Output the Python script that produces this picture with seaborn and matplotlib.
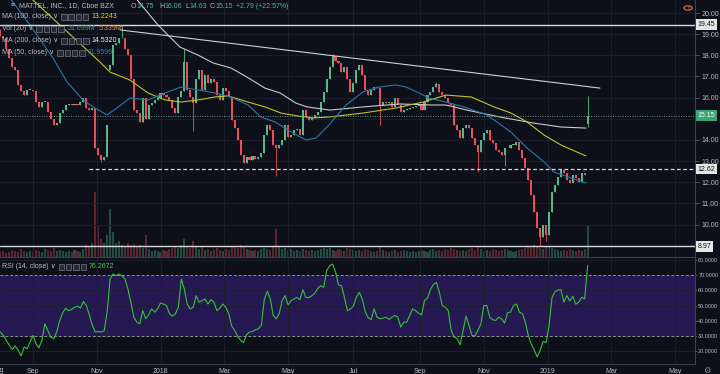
import numpy as np
import pandas as pd
import matplotlib.pyplot as plt
from matplotlib import font_manager
from matplotlib.patches import Rectangle, Circle
import seaborn as sns

# Mattel daily chart, drawn as 2-session candles (Aug 2017 - 7 Feb 2019)
close = [
    18.9, 18.8, 18.3, 17.85, 17.45, 17.3, 16.6, 16.3, 16.1, 16.35,
    16.35, 16.3, 15.8, 15.55, 15.8, 15.8, 15.3, 15.0, 14.7, 14.8,
    15.25, 15.4, 15.65, 15.7, 15.65, 15.7, 15.65, 15.8, 15.97, 15.5,
    15.4, 15.5, 13.6, 13.3, 13.05, 13.2, 14.7, 17.55, 18.5, 18.6,
    18.8, 18.8, 18.3, 18.0, 16.9, 15.4, 15.25, 14.86, 15.97, 15.0,
    15.65, 15.73, 15.9, 15.97, 16.2, 16.1, 16.05, 15.9, 15.5, 15.25,
    16.05, 16.3, 17.7, 16.35, 16.05, 15.73, 16.9, 17.3, 16.35, 17.07,
    16.7, 16.9, 16.75, 16.1, 15.9, 16.45, 16.3, 16.05, 14.94, 14.55,
    14.0, 13.3, 12.9, 13.2, 13.05, 13.25, 13.1, 13.2, 13.36, 14.23,
    14.7, 14.47, 13.76, 13.6, 13.76, 14.0, 14.7, 14.15, 14.23, 14.47,
    14.5, 14.23, 15.4, 15.1, 14.94, 15.02, 15.18, 15.33, 15.8, 16.28,
    16.9, 17.46, 17.95, 17.75, 17.62, 17.23, 17.46, 16.9, 16.28, 16.67,
    17.3, 17.54, 17.07, 16.36, 16.12, 16.36, 16.52, 16.44, 15.65, 15.8,
    15.73, 15.8, 15.57, 15.97, 15.65, 15.33, 15.41, 15.45, 15.49, 15.57,
    15.6, 15.7, 15.41, 15.8, 16.12, 16.28, 16.52, 16.63, 16.28, 16.12,
    15.97, 15.73, 15.65, 14.7, 14.47, 14.07, 14.55, 14.7, 14.55, 14.07,
    13.76, 13.44, 14.0, 14.31, 14.47, 14.0, 13.84, 13.52, 13.44, 13.28,
    13.6, 13.6, 13.75, 13.76, 13.92, 13.52, 13.13, 12.66, 12.1, 11.4,
    10.6, 9.82, 9.43, 9.98, 9.5, 10.6, 11.55, 11.87, 12.26, 12.58,
    12.42, 12.1, 11.95, 12.34, 12.18, 12.02, 12.42, 12.34, 15.15,
]
first_open = 19.0
gap_open = {37: 17.3, 198: 14.75}
high_ext = {0: 19.25, 41: 19.45, 62: 18.3, 112: 18.05, 147: 16.75, 198: 16.06}
low_ext = {34: 12.97, 65: 14.4, 93: 12.3, 128: 14.7, 161: 12.5, 170: 12.75,
           182: 8.97, 184: 9.2, 198: 14.63}

volume = [
    5, 6, 4, 5, 7, 6, 5, 8, 6, 5,
    6, 5, 7, 6, 5, 8, 7, 6, 9, 6,
    7, 6, 5, 6, 5, 7, 6, 5, 8, 12,
    10, 14, 65, 32, 18, 14, 22, 48, 25, 14,
    16, 12, 10, 14, 12, 13, 10, 12, 9, 22,
    8, 6, 7, 6, 5, 7, 6, 8, 9, 10,
    9, 12, 18, 11, 9, 16, 10, 8, 11, 7,
    8, 6, 7, 9, 7, 6, 8, 7, 10, 11,
    9, 12, 10, 8, 7, 6, 7, 6, 8, 9,
    8, 7, 10, 28, 10, 8, 9, 7, 8, 6,
    7, 6, 8, 7, 6, 7, 6, 7, 8, 9,
    8, 9, 7, 6, 8, 7, 6, 9, 8, 7,
    6, 7, 6, 8, 7, 6, 5, 6, 10, 7,
    6, 5, 6, 7, 5, 6, 7, 6, 5, 6,
    5, 6, 7, 6, 5, 7, 8, 6, 7, 6,
    8, 7, 9, 8, 7, 6, 7, 6, 8, 9,
    7, 11, 8, 6, 7, 6, 8, 7, 6, 7,
    8, 7, 6, 5, 6, 7, 8, 9, 10, 11,
    12, 10, 9, 8, 11, 10, 9, 8, 7, 6,
    7, 6, 8, 7, 6, 7, 6, 8, 32,
]

rsi = [
    32.6, 30.4, 27.2, 23.9, 21.3, 23.5, 20.7, 17.0, 22.8, 21.7,
    26.1, 30.4, 25.0, 22.2, 27.2, 38.0, 33.7, 29.3, 28.3, 32.6,
    40.2, 45.2, 48.3, 46.7, 47.4, 48.9, 49.6, 48.3, 52.6, 50.0,
    43.9, 37.0, 32.6, 33.0, 32.6, 33.5, 45.7, 67.4, 70.7, 69.6,
    70.7, 69.6, 67.4, 60.9, 52.2, 42.4, 39.1, 38.0, 46.7, 41.3,
    43.9, 47.8, 45.7, 47.8, 51.7, 51.0, 50.0, 44.6, 43.0, 44.6,
    48.9, 67.4, 61.0, 51.0, 47.8, 48.9, 56.5, 52.2, 53.3, 54.3,
    51.0, 53.9, 52.2, 46.7, 48.3, 51.0, 48.9, 44.6, 36.5, 33.7,
    29.8, 27.2, 25.7, 30.9, 32.6, 33.0, 34.1, 34.8, 37.0, 54.3,
    59.3, 54.3, 43.5, 41.3, 44.6, 53.3, 56.5, 50.4, 53.3, 54.3,
    55.4, 53.9, 60.4, 55.4, 55.2, 56.5, 58.0, 61.3, 63.0, 62.0,
    72.8, 76.1, 77.2, 72.2, 63.5, 63.0, 55.4, 46.7, 47.8, 49.6,
    55.4, 58.7, 54.3, 46.1, 42.0, 40.7, 47.8, 42.4, 41.3, 41.7,
    42.4, 40.9, 42.4, 43.5, 42.4, 35.9, 39.1, 39.1, 43.5, 47.8,
    46.7, 45.0, 43.9, 53.3, 54.8, 60.4, 63.9, 65.2, 58.7, 50.0,
    48.9, 46.7, 33.7, 29.3, 28.3, 24.3, 33.7, 43.0, 37.0, 30.4,
    30.0, 33.7, 38.0, 50.0, 50.0, 42.4, 40.7, 40.2, 42.4, 41.3,
    38.5, 45.2, 45.7, 50.0, 51.0, 45.7, 44.6, 39.1, 30.4, 24.6,
    20.7, 16.3, 20.7, 26.5, 25.7, 37.0, 55.4, 59.1, 60.2, 60.4,
    52.2, 56.5, 53.0, 56.1, 50.9, 52.2, 55.4, 54.3, 76.27,
]

# moving averages, read at points along each line (session index, price)
ma50_x = [0.8, 21.0, 36.5, 45.9, 56.7, 63.5, 72.9, 79.6, 88.4, 100.5, 112.0, 122.8,
          145.7, 156.5, 168.0, 176.8, 186.2, 195.0, 201.7, 207.1, 213.8, 222.6,
          234.1, 245.5, 256.3, 267.8, 274.5, 283.3, 290.0, 301.5, 313.6, 329.1,
          345.3, 356.1, 367.6, 374.3, 385.8, 395.9]
ma50_y = [21.32, 19.43, 17.87, 16.74, 15.89, 15.56, 15.18, 15.51, 15.98, 15.89, 16.22, 16.5,
          16.22, 16.03, 15.65, 15.08, 14.85, 14.47, 14.19, 14.0, 14.09, 14.71,
          15.65, 16.27, 16.5, 16.6, 16.5, 16.22, 15.98, 15.79, 15.56, 15.18,
          14.37, 13.62, 12.96, 12.48, 12.2, 11.96]
ma100_x = [14.2, 41.2, 68.2, 74.9, 88.4, 100.5, 112.0, 122.8, 134.3, 145.7, 154.5,
           168.0, 179.4, 190.2, 201.7, 211.8, 222.6, 245.5, 267.8, 286.0, 301.5,
           318.4, 333.9, 345.3, 356.1, 367.6, 379.0, 395.9]
ma100_y = [21.18, 19.43, 17.68, 17.21, 16.83, 16.22, 15.89, 15.79, 15.89, 16.03, 16.08,
           15.79, 15.56, 15.27, 15.13, 15.04, 15.08, 15.27, 15.51, 15.79, 16.12,
           16.03, 15.56, 15.27, 14.85, 14.23, 13.76, 13.24]
ma200_x = [85.0, 107.3, 122.1, 134.3, 144.4, 156.5, 167.3, 179.4, 189.6, 200.3, 207.8,
           223.3, 245.5, 270.5, 292.0, 301.5, 315.6, 338.0, 360.2, 379.0, 395.9]
ma200_y = [21.32, 19.43, 18.39, 18.01, 17.64, 17.4, 16.97, 16.45, 16.22, 15.74, 15.56,
           15.41, 15.56, 15.70, 15.65, 15.65, 15.41, 15.08, 14.8, 14.61, 14.56]
trend_x = [81.7, 405.3]
trend_y = [19.2, 16.45]

level_values = [19.45, 15.15, 12.62, 8.97]
price_ticks = [10, 11, 12, 13, 14, 16, 17, 18, 19, 20]
month_starts = ['2017-09-01', '2017-11-01', '2018-01-01', '2018-03-01', '2018-05-01',
                '2018-07-01', '2018-09-01', '2018-11-01', '2019-01-01', '2019-03-01',
                '2019-05-01']
month_labels = ['Sep', 'Nov', '2018', 'Mar', 'May', 'Jul', 'Sep', 'Nov', '2019', 'Mar', 'May']

# ---- styling ----
BG = '#0d1019'
GRID = '#1b1f2b'
TXT = '#b8bbc4'
UP = '#53b987'
DOWN = '#eb4d5c'

sns.set_theme(style='dark', rc={'axes.facecolor': BG, 'figure.facecolor': BG,
                                'savefig.facecolor': BG})
names = {f.name for f in font_manager.fontManager.ttflist}
FONT = 'Liberation Sans Narrow' if 'Liberation Sans Narrow' in names else 'Liberation Sans'
plt.rcParams['font.family'] = [FONT, 'DejaVu Sans']

# build candle table
pos = np.arange(1, 2 * len(close), 2)
opens = [first_open] + close[:-1]
for k, v in gap_open.items():
    opens[k] = v
df = pd.DataFrame({'pos': pos, 'open': opens, 'close': close, 'vol': volume, 'rsi': rsi})
df['high'] = df[['open', 'close']].max(axis=1)
df['low'] = df[['open', 'close']].min(axis=1)
for k, v in high_ext.items():
    df.loc[k, 'high'] = v
for k, v in low_ext.items():
    df.loc[k, 'low'] = v
up = df['close'] >= df['open']
cols = np.where(up, UP, DOWN)
vcols = np.where(up, '#1f4d3f', '#5a2431')

days = pd.bdate_range('2017-08-01', '2019-06-28')
tick_pos = [days.searchsorted(pd.Timestamp(m)) for m in month_starts]

W, H = 720, 374
fig = plt.figure(figsize=(7.2, 3.74), dpi=100)
renderer = fig.canvas.get_renderer()
XL = (0.75, 469.4)

def fx(x):
    return x / W

def fy(y):
    return 1 - y / H

# volume underlay
axv = fig.add_axes([0, fy(257), fx(695), 257 / H])
axv.bar(df['pos'], df['vol'], width=1.4, color=vcols, linewidth=0)
axv.set_xlim(*XL)
axv.set_ylim(0, 257)
axv.axis('off')
axv.patch.set_facecolor(BG)
axv.patch.set_visible(True)

ax = fig.add_axes([0, fy(257), fx(695), 257 / H])
ax.patch.set_visible(False)
ax.set_xlim(*XL)
ax.set_ylim(8.464, 20.615)
ax.set_axisbelow(True)
ax.set_xticks(tick_pos)
ax.set_xticklabels([])
ax.set_yticks(range(9, 21))
ax.grid(True, color=GRID, linewidth=0.7)
ax.tick_params(axis='x', length=0)

# candles
ax.vlines(df['pos'], df['low'], df['high'], colors=cols, linewidth=0.6, zorder=3)
body = (df['close'] - df['open']).abs().clip(lower=0.04)
ax.bar(df['pos'], body, bottom=df[['open', 'close']].min(axis=1), width=1.4,
       color=cols, linewidth=0, zorder=3)

# moving averages and trend line
sns.lineplot(x=ma200_x, y=ma200_y, ax=ax, color='#c9c9c9', linewidth=0.8, estimator=None, zorder=4)
sns.lineplot(x=ma100_x, y=ma100_y, ax=ax, color='#c2c230', linewidth=0.8, estimator=None, zorder=4)
sns.lineplot(x=ma50_x, y=ma50_y, ax=ax, color='#2f75a8', linewidth=0.8, estimator=None, zorder=4)
sns.lineplot(x=trend_x, y=trend_y, ax=ax, color='#cfcfcf', linewidth=0.8, estimator=None, zorder=4)

# horizontal levels
ax.axhline(level_values[0], color='#d8d8d8', linewidth=1.0, zorder=4)
ax.axhline(level_values[1], color='#6c9c80', linewidth=0.7, linestyle=(0, (1, 1.5)), zorder=4)
ax.hlines(level_values[2], 61, XL[1], color='#d8d8d8', linewidth=0.9, linestyle=(0, (3, 2)), zorder=4)
ax.axhline(level_values[3], color='#d8d8d8', linewidth=1.0, zorder=4)

# right price scale (labels hidden under the level boxes are left out)
ax.yaxis.tick_right()
ax.tick_params(axis='y', length=3, width=0.6, color='#5a5e6a', labelsize=5, labelcolor=TXT, pad=2)
ax.set_yticklabels([f'{v:.2f}' if v in price_ticks else '' for v in range(9, 21)])
for s in ['top', 'left']:
    ax.spines[s].set_visible(False)
for s in ['right', 'bottom']:
    ax.spines[s].set_color('#3c4050')
    ax.spines[s].set_linewidth(0.8)
ax.set_xlabel('')
ax.set_ylabel('')

# price label boxes on the scale
ytr = ax.get_yaxis_transform()
for val, fc, tc in [(level_values[0], '#e6e6e6', '#111111'), (level_values[1], '#3aa574', '#ffffff'),
                    (level_values[2], '#e6e6e6', '#111111'), (level_values[3], '#e6e6e6', '#111111')]:
    ax.text(1.004, val, f'{val:.2f}', transform=ytr, ha='left', va='center', fontsize=5, color=tc,
            bbox=dict(boxstyle='square,pad=0.25', fc=fc, ec='none'), zorder=6, clip_on=False)

# RSI panel
axr = fig.add_axes([0, fy(364), fx(695), (364 - 258) / H])
axr.set_xlim(*XL)
axr.set_ylim(11.65, 81.2)
axr.axhspan(30, 70, color='#251853', linewidth=0, zorder=0)
axr.set_axisbelow(True)
axr.set_yticks(range(20, 90, 10))
axr.set_xticks(tick_pos)
axr.set_xticklabels(month_labels)
axr.grid(True, color=GRID, linewidth=0.7)
axr.axhline(70, color='#8b8d9a', linewidth=0.7, linestyle=(0, (3, 2)), zorder=2)
axr.axhline(30, color='#8b8d9a', linewidth=0.7, linestyle=(0, (3, 2)), zorder=2)
sns.lineplot(x=df['pos'], y=df['rsi'], ax=axr, color='#35c235', linewidth=0.8, estimator=None, zorder=3)
axr.yaxis.tick_right()
axr.yaxis.set_major_formatter(plt.FuncFormatter(lambda v, p: f'{v:.4f}'))
axr.tick_params(axis='y', length=1.5, width=0.6, color='#5a5e6a', labelsize=3.9, labelcolor=TXT, pad=0.8)
axr.tick_params(axis='x', length=0, labelsize=5, labelcolor=TXT, pad=3)
for s in ['top', 'left']:
    axr.spines[s].set_visible(False)
for s in ['right', 'bottom']:
    axr.spines[s].set_color('#3c4050')
    axr.spines[s].set_linewidth(0.8)
axr.set_xlabel('')
axr.set_ylabel('')

# ---- legend text, each piece placed after the previous one ----
FS = 5.0

def ftxt(x, y, s, color=TXT):
    t = fig.text(fx(x), fy(y), s, color=color, fontsize=FS, va='center', ha='left')
    return t.get_window_extent(renderer).x1

def icons(x, y):
    for i in range(4):
        fig.add_artist(Rectangle((fx(x + i * 7.3), fy(y + 2.8)), 5.4 / W, 5.6 / H,
                                 transform=fig.transFigure, fc='#262a36', ec='#777a86', lw=0.5))
    return x + 3 * 7.3 + 5.4

def row(y, name, icon_x, parts):
    end = ftxt(2, y, name)
    end = icons(max(icon_x, end + 3), y)
    for px_, s, c in parts:
        end = ftxt(max(px_, end + 3), y, s, c)

ftxt(11, 6, '\u2261')
end = ftxt(19, 6, 'MATTEL, INC., 1D, Cboe BZX')
for x, lab, val in [(131, 'O', '14.75'), (159, 'H', '16.06'), (185, 'L', '14.63'), (209, 'C', '15.15')]:
    end = ftxt(max(x, end + 3), 6, lab)
    end = ftxt(end + 0.3, 6, val, UP)
ftxt(max(236, end + 3), 6, '+2.79 (+22.57%)', UP)

row(17, 'MA (100, close) \u2228', 57, [(91, '13.2243', '#d6d62c')])
row(29, 'Vol (20) \u2228', 34, [(68, '31.699M', '#26a69a'), (96, '5.339M', '#f08a3c')])
row(41, 'MA (200, close) \u2228', 57, [(91, '14.5320', '#eeeeee')])
row(53, 'MA (50, close) \u2228', 53, [(87, '11.9596', '#2f7fc0')])
row(267, 'RSI (14, close) \u2228', 53, [(87, '76.2672', '#3ad23a')])

# cut month label at the left edge, alert and gear icons
fig.text(fx(-8), fy(370), 'Aug', color=TXT, fontsize=5, va='center', ha='left')
fig.add_artist(Circle((fx(688), fy(8)), 4.2 / W, transform=fig.transFigure, fc='none',
                      ec='#e07b39', lw=0.8))
fig.text(fx(688), fy(8), '!', color='#e07b39', fontsize=4.5, ha='center', va='center')
fig.text(fx(707), fy(370), '\u2699', color='#8a8d98', fontsize=6, ha='center', va='center',
         family=['DejaVu Sans'])

fig.savefig('out.png', dpi=100, facecolor=BG)
